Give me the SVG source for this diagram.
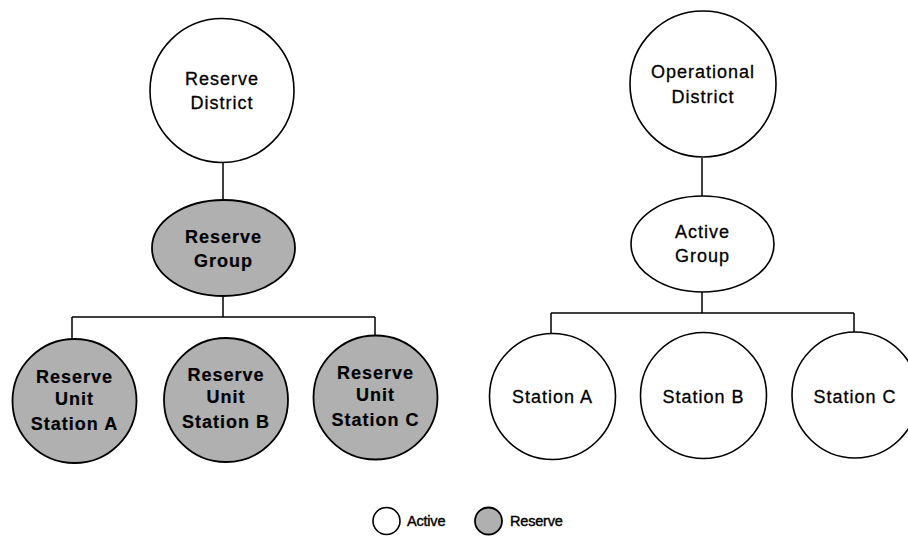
<svg xmlns="http://www.w3.org/2000/svg" width="908" height="536" viewBox="0 0 908 536">
<style>
.n{fill:#fff;stroke:#000;stroke-width:1.6}
.r{fill:#b0b0b0;stroke:#000;stroke-width:1.8}
.c{fill:none;stroke:#000;stroke-width:1.5}
text{font-family:"Liberation Sans",Arial,sans-serif;font-size:18px;fill:#000;stroke:#000;stroke-width:0.3;text-anchor:middle;letter-spacing:1px}
.b{font-weight:bold;stroke-width:0.2}
.l{font-size:14.5px;text-anchor:start;letter-spacing:-0.2px;stroke-width:0.4}
</style>
<rect width="908" height="536" fill="#fff"/>
<g id="connectors">
<path class="c" d="M223 163V200M223 296V317M72 317H375M72 317V339M375 317V335"/>
<path class="c" d="M702 158V196M702 292V313M551 313H854M551 313V333M854 313V332"/>
</g>
<g id="reserve-district"><circle class="n" cx="222" cy="90.5" r="72"/><text x="222" y="85">Reserve</text><text x="222" y="109">District</text></g>
<g id="reserve-group"><ellipse class="r" cx="223.5" cy="248" rx="71.5" ry="48"/><text class="b" x="223.5" y="243">Reserve</text><text class="b" x="223.5" y="267">Group</text></g>
<g id="reserve-unit-a"><circle class="r" cx="74.5" cy="401" r="62"/><text class="b" x="74.5" y="383">Reserve</text><text class="b" x="74.5" y="405">Unit</text><text class="b" x="74.5" y="430">Station A</text></g>
<g id="reserve-unit-b"><circle class="r" cx="226" cy="400" r="62"/><text class="b" x="226" y="381">Reserve</text><text class="b" x="226" y="403">Unit</text><text class="b" x="226" y="428">Station B</text></g>
<g id="reserve-unit-c"><circle class="r" cx="375.5" cy="397.5" r="62"/><text class="b" x="375.5" y="379">Reserve</text><text class="b" x="375.5" y="401">Unit</text><text class="b" x="375.5" y="426">Station C</text></g>
<g id="operational-district"><circle class="n" cx="703" cy="84" r="73"/><text x="703" y="78">Operational</text><text x="703" y="103">District</text></g>
<g id="active-group"><ellipse class="n" cx="702.5" cy="244" rx="71.5" ry="48"/><text x="702.5" y="238">Active</text><text x="702.5" y="262">Group</text></g>
<g id="station-a"><circle class="n" cx="552.5" cy="396.5" r="63"/><text x="552.5" y="403">Station A</text></g>
<g id="station-b"><circle class="n" cx="703.5" cy="395.5" r="63"/><text x="703.5" y="403">Station B</text></g>
<g id="station-c"><circle class="n" cx="855" cy="395" r="63"/><text x="855" y="403">Station C</text></g>
<g id="legend">
<circle class="n" cx="386.5" cy="521" r="13.5"/><text class="l" x="407" y="526">Active</text>
<circle class="r" cx="488.5" cy="521" r="13.5"/><text class="l" x="510" y="526">Reserve</text>
</g>
</svg>
